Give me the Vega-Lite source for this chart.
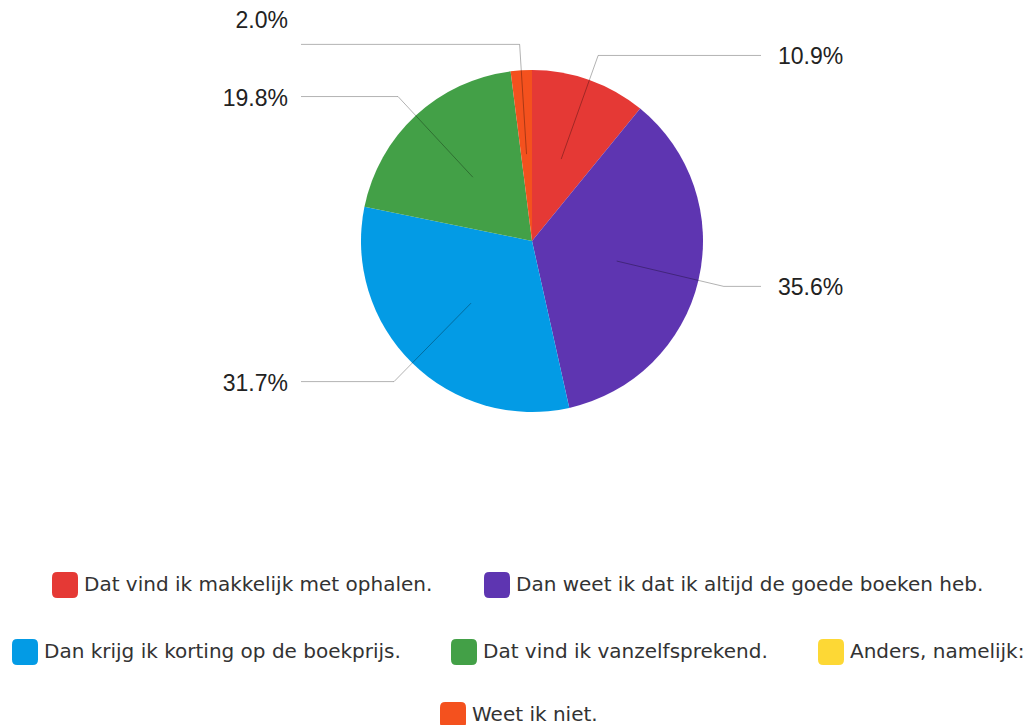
{
  "$schema": "https://vega.github.io/schema/vega-lite/v6.json",
  "width": 990,
  "height": 482,
  "autosize": {"type": "none"},
  "padding": {"left": 37, "top": 0, "right": 0, "bottom": 243},
  "background": "white",
  "config": {"view": {"stroke": null}},
  "data": {
    "values": [
      {"cat": "Dat vind ik makkelijk met ophalen.", "pct": 10.9, "order": 1},
      {"cat": "Dan weet ik dat ik altijd de goede boeken heb.", "pct": 35.6, "order": 2},
      {"cat": "Dan krijg ik korting op de boekprijs.", "pct": 31.7, "order": 3},
      {"cat": "Dat vind ik vanzelfsprekend.", "pct": 19.8, "order": 4},
      {"cat": "Anders, namelijk:", "pct": 0, "order": 5},
      {"cat": "Weet ik niet.", "pct": 2.0, "order": 6}
    ]
  },
  "layer": [
    {
      "mark": {"type": "arc", "outerRadius": 171},
      "encoding": {
        "theta": {"field": "pct", "type": "quantitative", "stack": true},
        "order": {"field": "order", "type": "quantitative"},
        "color": {
          "field": "cat", "type": "nominal", "legend": null,
          "scale": {
            "domain": ["Dat vind ik makkelijk met ophalen.", "Dan weet ik dat ik altijd de goede boeken heb.", "Dan krijg ik korting op de boekprijs.", "Dat vind ik vanzelfsprekend.", "Anders, namelijk:", "Weet ik niet."],
            "range": ["#E53935", "#5E35B1", "#039BE5", "#43A047", "#FDD835", "#F4511E"]
          }
        }
      }
    },
    {
      "transform": [
        {"filter": "datum.pct > 0"},
        {"window": [{"op": "sum", "field": "pct", "as": "cum"}], "sort": [{"field": "order"}], "frame": [null, 0]},
        {"calculate": "(datum.cum - datum.pct / 2) / 100 * 2 * PI", "as": "mid"},
        {"calculate": "87 * sin(datum.mid)", "as": "x1"},
        {"calculate": "87 * cos(datum.mid)", "as": "y1"},
        {"calculate": "197 * sin(datum.mid)", "as": "xe"},
        {"calculate": "197 * cos(datum.mid)", "as": "ye"},
        {"calculate": "sin(datum.mid) > 0 ? 229 : -231", "as": "x3"},
        {"calculate": "sin(datum.mid) > 0 ? 246 : -244", "as": "lx"},
        {"calculate": "datum.order == 6 ? datum.ye + 23 : datum.ye - 2", "as": "ly"},
        {"calculate": "format(datum.pct, '.1f') + '%'", "as": "lab"},
        {"calculate": "sin(datum.mid) > 0 ? 'left' : 'right'", "as": "side"}
      ],
      "layer": [
        {
          "mark": {"type": "rule", "color": "#000000", "opacity": 0.3, "strokeWidth": 1},
          "encoding": {
            "x": {"field": "x1", "type": "quantitative", "scale": {"domain": [-495, 495], "nice": false, "zero": false}, "axis": null},
            "y": {"field": "y1", "type": "quantitative", "scale": {"domain": [-241, 241], "nice": false, "zero": false}, "axis": null},
            "x2": {"field": "xe"},
            "y2": {"field": "ye"}
          }
        },
        {
          "mark": {"type": "rule", "color": "#000000", "opacity": 0.3, "strokeWidth": 1},
          "encoding": {
            "x": {"field": "xe", "type": "quantitative"},
            "y": {"field": "ye", "type": "quantitative"},
            "x2": {"field": "x3"}
          }
        },
        {
          "transform": [{"filter": "datum.side == 'left'"}],
          "mark": {"type": "text", "align": "left", "baseline": "middle", "font": "Liberation Sans", "fontSize": 23, "color": "#222222"},
          "encoding": {
            "x": {"field": "lx", "type": "quantitative"},
            "y": {"field": "ly", "type": "quantitative"},
            "text": {"field": "lab"}
          }
        },
        {
          "transform": [{"filter": "datum.side == 'right'"}],
          "mark": {"type": "text", "align": "right", "baseline": "middle", "font": "Liberation Sans", "fontSize": 23, "color": "#222222"},
          "encoding": {
            "x": {"field": "lx", "type": "quantitative"},
            "y": {"field": "ly", "type": "quantitative"},
            "text": {"field": "lab"}
          }
        }
      ]
    },
    {
      "transform": [{"filter": "false"}],
      "mark": {"type": "point", "filled": true},
      "encoding": {
        "color": {
          "field": "cat", "type": "nominal",
          "scale": {"domain": ["Dat vind ik makkelijk met ophalen.", "Dan weet ik dat ik altijd de goede boeken heb."], "range": ["#E53935", "#5E35B1"]},
          "legend": {"title": null, "orient": "none", "legendX": 15, "legendY": 572, "direction": "horizontal", "padding": 0,
            "symbolType": "M -1 -0.6 Q -1 -1 -0.6 -1 L 0.6 -1 Q 1 -1 1 -0.6 L 1 0.6 Q 1 1 0.6 1 L -0.6 1 Q -1 1 -1 0.6 Z",
            "symbolSize": 676, "symbolStrokeWidth": 0, "symbolOpacity": 1, "labelOffset": 6, "columnPadding": 51,
            "labelFont": "DejaVu Sans", "labelFontSize": 20, "labelColor": "#333333", "labelLimit": 1000}
        }
      }
    },
    {
      "transform": [{"filter": "false"}],
      "mark": {"type": "point", "filled": true},
      "encoding": {
        "color": {
          "field": "cat", "type": "nominal",
          "scale": {"domain": ["Dan krijg ik korting op de boekprijs.", "Dat vind ik vanzelfsprekend.", "Anders, namelijk:"], "range": ["#039BE5", "#43A047", "#FDD835"]},
          "legend": {"title": null, "orient": "none", "legendX": -25, "legendY": 639, "direction": "horizontal", "padding": 0,
            "symbolType": "M -1 -0.6 Q -1 -1 -0.6 -1 L 0.6 -1 Q 1 -1 1 -0.6 L 1 0.6 Q 1 1 0.6 1 L -0.6 1 Q -1 1 -1 0.6 Z",
            "symbolSize": 676, "symbolStrokeWidth": 0, "symbolOpacity": 1, "labelOffset": 6, "columnPadding": 50,
            "labelFont": "DejaVu Sans", "labelFontSize": 20, "labelColor": "#333333", "labelLimit": 1000}
        }
      }
    },
    {
      "transform": [{"filter": "false"}],
      "mark": {"type": "point", "filled": true},
      "encoding": {
        "color": {
          "field": "cat", "type": "nominal",
          "scale": {"domain": ["Weet ik niet."], "range": ["#F4511E"]},
          "legend": {"title": null, "orient": "none", "legendX": 403, "legendY": 702, "direction": "horizontal", "padding": 0,
            "symbolType": "M -1 -0.6 Q -1 -1 -0.6 -1 L 0.6 -1 Q 1 -1 1 -0.6 L 1 0.6 Q 1 1 0.6 1 L -0.6 1 Q -1 1 -1 0.6 Z",
            "symbolSize": 676, "symbolStrokeWidth": 0, "symbolOpacity": 1, "labelOffset": 6, "columnPadding": 50,
            "labelFont": "DejaVu Sans", "labelFontSize": 20, "labelColor": "#333333", "labelLimit": 1000}
        }
      }
    }
  ],
  "resolve": {"scale": {"color": "independent"}}
}
